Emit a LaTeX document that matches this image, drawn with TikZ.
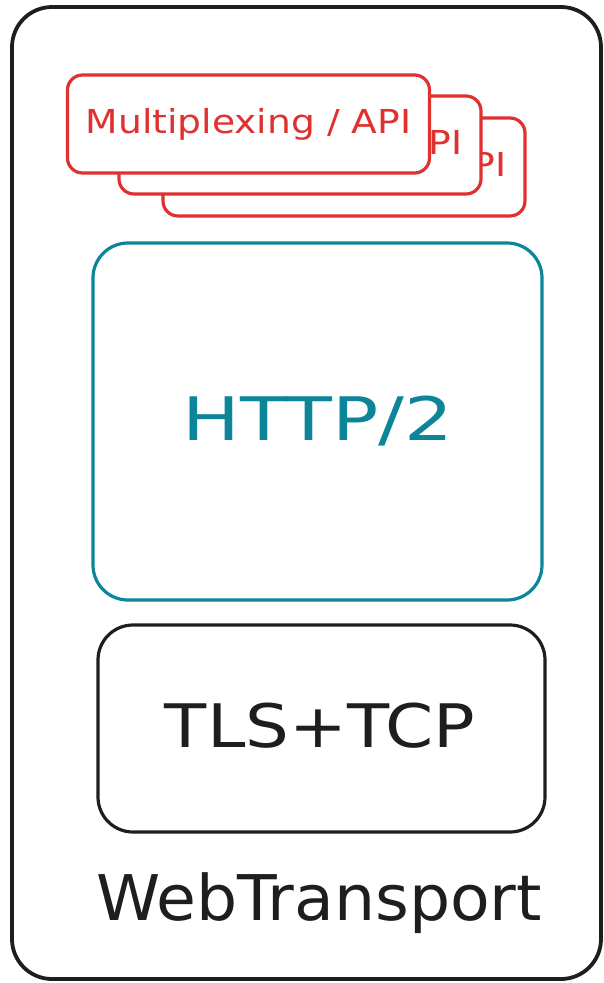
\documentclass[tikz,border=0pt]{standalone}
\usepackage{fontspec}
\setmainfont{DejaVu Sans}
\newfontfamily\handA[FakeStretch=1.14]{DejaVu Sans}
\newfontfamily\handB[FakeStretch=1.28]{DejaVu Sans}
\newfontfamily\handC[FakeStretch=1.15]{DejaVu Sans}
\newfontfamily\handD[FakeStretch=1.03]{DejaVu Sans}
\definecolor{exred}{HTML}{E03131}
\definecolor{exteal}{HTML}{0C8599}
\definecolor{exblack}{HTML}{1E1E1E}
\tikzset{
  apibox/.style={draw=exred, line width=3.2pt, fill=white, rounded corners=15pt,
    minimum width=362pt, minimum height=98pt, inner sep=0pt, text=exred,
    font=\handA\fontsize{33}{38}\selectfont},
  layerbox/.style={draw=#1, line width=3.2pt, rounded corners=35pt, inner sep=0pt},
  outerbox/.style={draw=exblack, line width=3.8pt, rounded corners=40pt}
}
\begin{document}
\begin{tikzpicture}[x=1pt,y=-1pt]
\useasboundingbox (0,0) rectangle (604,983);
\draw[outerbox] (12,7) rectangle (601,979);
% stacked API boxes (back to front)
\node[apibox] (api3) at (344,167) {Multiplexing / API};
\node[apibox] (api2) at (300,145) {Multiplexing / API};
\node[apibox] (api1) at (248.5,124) {Multiplexing / API};
% HTTP/2
\node[layerbox=exteal, minimum width=449pt, minimum height=357pt] (http) at (317.5,421.5) {};
\node[text=exteal, font=\handB\fontsize{60}{66}\selectfont] (httpt) at (318,421) {HTTP/2};
% TLS+TCP
\node[layerbox=exblack, minimum width=447pt, minimum height=207pt] (tls) at (321.5,728.5) {};
\node[text=exblack, font=\handC\fontsize{60}{66}\selectfont] (tlst) at (320,726) {TLS+TCP};
% label
\node[anchor=base, text=exblack, font=\handD\fontsize{63}{68}\selectfont, inner sep=0pt] (wt) at (319,920) {WebTransport};
\end{tikzpicture}
\end{document}
